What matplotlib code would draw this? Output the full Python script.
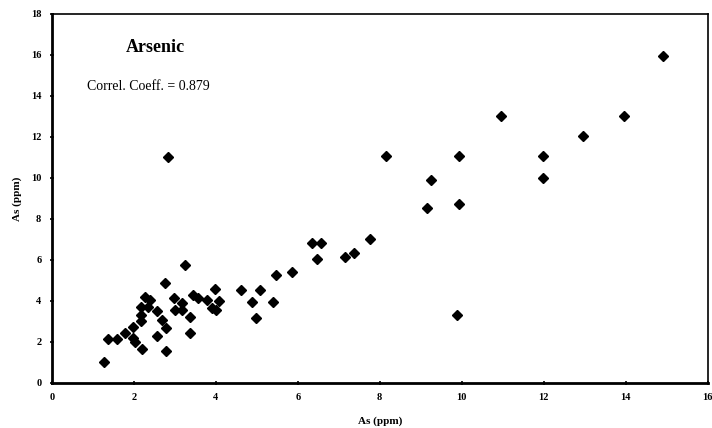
import matplotlib
matplotlib.use("Agg")
import matplotlib.pyplot as plt
import numpy as np

as_x = [1.28, 1.38, 1.59, 1.80, 1.98, 1.98, 2.02, 2.17, 2.17, 2.19, 2.21,
        2.28, 2.40, 2.36, 2.56, 2.68, 2.76, 3.25, 2.78, 2.58, 2.78,
        2.98, 3.00, 3.18, 3.18, 3.37, 3.37, 3.45, 3.57, 3.79, 3.90,
        4.00, 3.98, 4.08, 4.62, 4.88, 5.07, 4.98, 5.39, 5.46, 5.87,
        6.35, 6.57, 6.46, 7.16, 7.37, 7.76, 8.15, 9.24, 9.15, 9.94,
        9.94, 9.89, 14.90, 10.95, 13.95, 12.95, 11.98, 11.98, 2.84]
as_y = [1.00, 2.13, 2.13, 2.43, 2.73, 2.17, 1.97, 2.99, 3.31, 3.72, 1.65,
        4.17, 4.04, 3.72, 3.48, 3.07, 4.85, 5.73, 2.67, 2.29, 1.57,
        4.12, 3.55, 3.88, 3.55, 3.22, 2.44, 4.28, 4.12, 4.04, 3.63,
        3.55, 4.56, 4.00, 4.54, 3.94, 4.54, 3.16, 3.94, 5.26, 5.41,
        6.82, 6.82, 6.04, 6.14, 6.35, 7.00, 11.07, 9.91, 8.52, 11.07,
        8.73, 3.32, 15.97, 13.01, 13.01, 12.03, 11.05, 10.00, 11.03]

x_ticks = [0, 2, 4, 6, 8, 10, 12, 14, 16]
y_ticks = [0, 2, 4, 6, 8, 10, 12, 14, 16, 18]

plt.rcParams['font.family'] = ['Liberation Serif', 'DejaVu Serif']

fig = plt.figure(figsize=(7.12, 4.28), dpi=100)
ax = fig.add_axes([0.0726, 0.1058, 0.9214, 0.8615])

ax.plot(as_x, as_y, linestyle='none', marker='D', markersize=5.4,
        color='black')

ax.set_xlim(0, 16)
ax.set_ylim(0, 18)
ax.set_xticks(x_ticks)
ax.set_yticks(y_ticks)
ax.tick_params(direction='inout', length=3, width=1.2, labelsize=7.5, pad=6)
for lab in ax.get_xticklabels() + ax.get_yticklabels():
    lab.set_fontweight('bold')

ax.spines['left'].set_linewidth(2)
ax.spines['bottom'].set_linewidth(2)
ax.spines['top'].set_linewidth(1.2)
ax.spines['right'].set_linewidth(1.2)

ax.set_xlabel('As (ppm)', fontsize=8, fontweight='bold', labelpad=10)
ax.set_ylabel('As (ppm)', fontsize=8, fontweight='bold', labelpad=6)

# header texts placed in pixel coords (origin bottom-left)
ax.text(155, 380, 'Arsenic', transform=None, fontsize=13, fontweight='bold',
        ha='center', va='center')
ax.text(87, 341, 'Correl. Coeff. = 0.879', transform=None, fontsize=10,
        ha='left', va='center')

fig.savefig('out.png', dpi=100)
